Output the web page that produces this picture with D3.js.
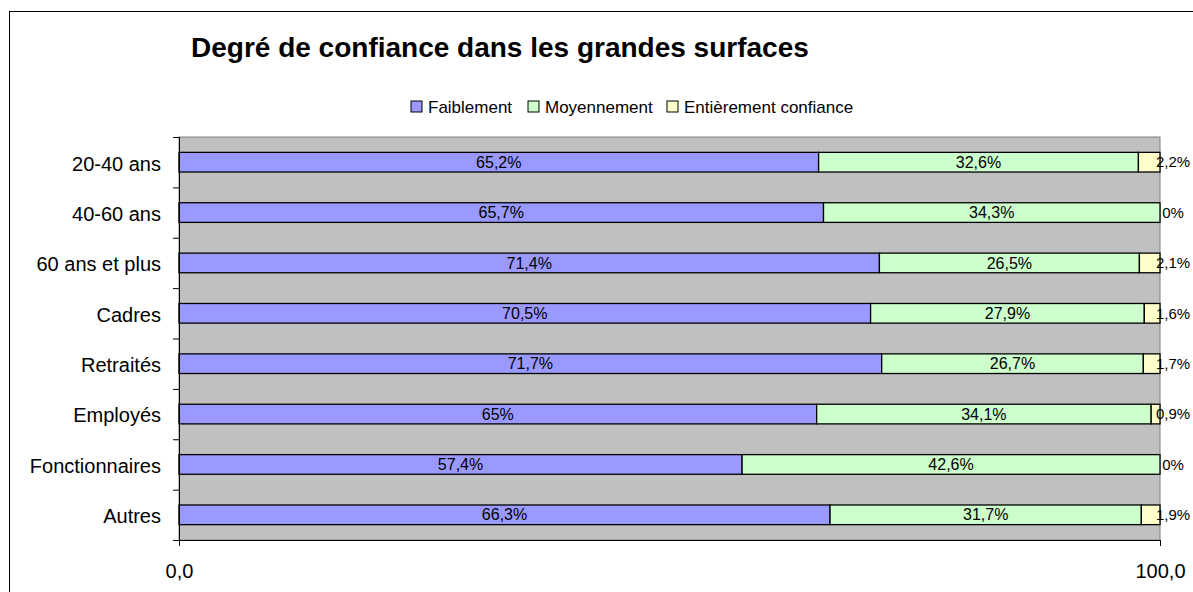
<!DOCTYPE html>
<html>
<head>
<meta charset="utf-8">
<script src="https://cdn.jsdelivr.net/npm/d3@7"></script>
<style>
  body { margin: 0; background: #fff; overflow: hidden; }
  svg { display: block; font-family: Arial, "Liberation Sans", sans-serif; }
</style>
</head>
<body>
<script>
const categories = ["20-40 ans", "40-60 ans", "60 ans et plus", "Cadres", "Retraités", "Employés", "Fonctionnaires", "Autres"];
const seriesNames = ["Faiblement", "Moyennement", "Entièrement confiance"];
const faiblement = [65.2, 65.7, 71.4, 70.5, 71.7, 65, 57.4, 66.3];
const moyennement = [32.6, 34.3, 26.5, 27.9, 26.7, 34.1, 42.6, 31.7];
const entierement = [2.2, 0, 2.1, 1.6, 1.7, 0.9, 0, 1.9];
const tickValues = [0, 1];
const tickLabels = ["0,0", "100,0"];
const colors = ["#9999FF", "#CCFFCC", "#FFFFCC"];

const width = 1193;
const height = 592;
const plot = { left: 179, right: 1160, top: 137, bottom: 540 };

const rows = categories.map((c, i) => ({
  cat: c,
  [seriesNames[0]]: faiblement[i],
  [seriesNames[1]]: moyennement[i],
  [seriesNames[2]]: entierement[i]
}));

const stack = d3.stack().keys(seriesNames).offset(d3.stackOffsetExpand);
const layers = stack(rows);

const svg = d3.select("body").append("svg")
  .attr("width", width)
  .attr("height", height);

// outer chart border
svg.append("rect")
  .attr("x", 9.5).attr("y", 11.5)
  .attr("width", 1300).attr("height", 700)
  .attr("fill", "#fff").attr("stroke", "#000");

const x = d3.scaleLinear().domain([0, 1]).range([plot.left, plot.right]);
const y = d3.scaleBand().domain(categories).range([plot.top, plot.bottom])
  .paddingInner(0.61).paddingOuter(0.305);
const yTicks = d3.scaleLinear().domain([0, categories.length]).range([plot.top, plot.bottom]);

// plot area
svg.append("rect")
  .attr("x", plot.left).attr("y", plot.top)
  .attr("width", plot.right - plot.left).attr("height", plot.bottom - plot.top)
  .attr("fill", "#C0C0C0").attr("stroke", "#808080");

// bars
const g = svg.selectAll(".layer")
  .data(layers)
  .enter().append("g")
  .attr("fill", (d, i) => colors[i]);

g.selectAll("rect")
  .data(d => d.map(v => ({ v, cat: v.data.cat })))
  .enter().append("rect")
  .attr("x", d => x(d.v[0]))
  .attr("y", d => y(d.cat))
  .attr("width", d => x(d.v[1]) - x(d.v[0]))
  .attr("height", y.bandwidth())
  .attr("stroke", "#000")
  .attr("stroke-width", 1.3);

// data labels (last series sits just outside the bar end)
const fmt = v => String(v).replace(".", ",") + "%";
layers.forEach((layer, li) => {
  svg.append("g").selectAll("text")
    .data(layer)
    .enter().append("text")
    .attr("x", d => li === 2 ? x(d[1]) + 13 : (x(d[0]) + x(d[1])) / 2)
    .attr("y", d => y(d.data.cat) + y.bandwidth() / 2)
    .attr("dy", "0.35em")
    .attr("text-anchor", "middle")
    .attr("font-size", li === 2 ? 15 : 16)
    .attr("fill", "#000")
    .text(d => fmt(d.data[seriesNames[li]]));
});

// left axis: ticks between categories
svg.append("g")
  .attr("transform", `translate(${plot.left},0)`)
  .call(d3.axisLeft(yTicks).tickValues(d3.range(categories.length + 1)).tickSize(6).tickFormat(""))
  .call(a => a.select(".domain").attr("stroke", "#000"));

svg.append("g")
  .selectAll("text")
  .data(categories)
  .enter().append("text")
  .attr("x", 161)
  .attr("y", d => y(d) + y.bandwidth() / 2)
  .attr("dy", "0.42em")
  .attr("text-anchor", "end")
  .attr("font-size", 20)
  .text(d => d);

// bottom axis
const xAxis = svg.append("g")
  .attr("transform", `translate(0,${plot.bottom})`)
  .call(d3.axisBottom(x).tickValues(tickValues).tickSize(6).tickPadding(18)
    .tickFormat((d, i) => tickLabels[i]));
xAxis.select(".domain").attr("stroke", "#000");
xAxis.selectAll("text").attr("font-size", 20).attr("font-family", "Arial, 'Liberation Sans', sans-serif").attr("fill", "#000");

// title
svg.append("text")
  .attr("x", 191).attr("y", 57)
  .attr("font-size", 28).attr("font-weight", "bold")
  .text("Degré de confiance dans les grandes surfaces");

// legend
const legendX = [411, 528, 667];
const legend = svg.append("g").selectAll("g")
  .data(seriesNames)
  .enter().append("g")
  .attr("transform", (d, i) => `translate(${legendX[i]},101)`);
legend.append("rect")
  .attr("width", 11).attr("height", 11)
  .attr("fill", (d, i) => colors[i])
  .attr("stroke", "#000");
legend.append("text")
  .attr("x", 17).attr("y", 6)
  .attr("dy", "0.36em")
  .attr("font-size", 17)
  .text(d => d);
</script>
</body>
</html>
